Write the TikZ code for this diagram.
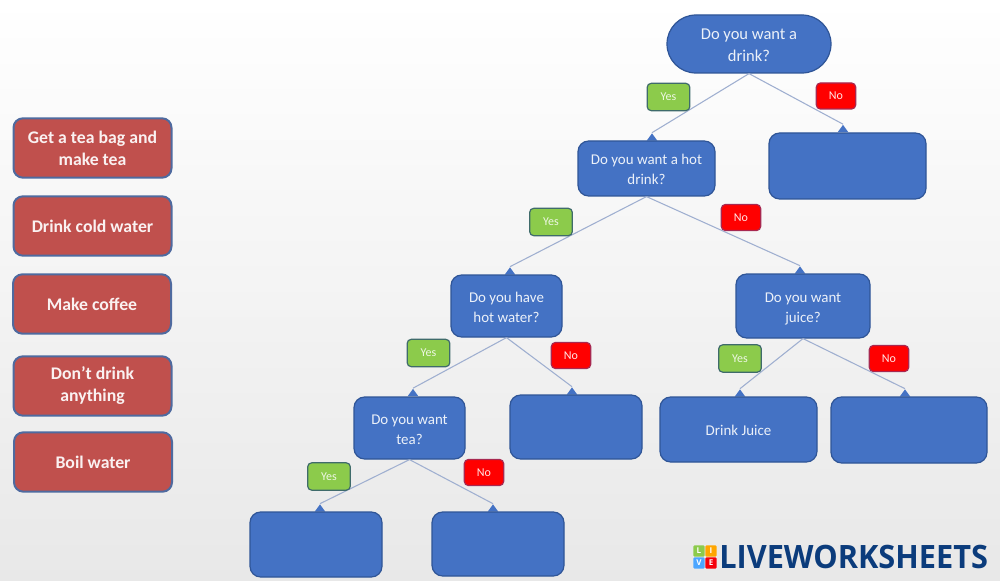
\documentclass[tikz,border=0pt]{standalone}
\usepackage{fontspec}
\setmainfont{Carlito}
\newfontfamily\logofont{Open Sans}
\usetikzlibrary{shapes.geometric,shapes.misc}
\definecolor{qblue}{HTML}{4472C4}
\definecolor{qedge}{HTML}{2F5597}
\definecolor{redbox}{HTML}{C0504D}
\definecolor{rededge}{HTML}{4F6A9F}
\definecolor{yesfill}{HTML}{8CCB4B}
\definecolor{yesedge}{HTML}{3F6B6B}
\definecolor{nofill}{HTML}{FF0000}
\definecolor{noedge}{HTML}{A82850}
\definecolor{linkcol}{HTML}{9FAFD0}
\definecolor{logonavy}{HTML}{0B3C7C}
\tikzset{
  x=0.75pt,y=-0.75pt,
  qbox/.style={rectangle,rounded corners=8pt,draw=qedge,line width=0.9pt,fill=qblue,text=white!90!qblue,align=center,font=\fontsize{11.2}{15}\selectfont,inner sep=0pt,text depth=0pt,text height=24pt,minimum width=#1},
  redcard/.style={rectangle,rounded corners=7pt,draw=rededge,line width=1.5pt,fill=redbox,text=white!92!redbox,align=center,font=\bfseries\fontsize{13.3}{16.5}\selectfont,inner sep=0pt,minimum width=118.5pt,minimum height=44.5pt},
  yestag/.style={rectangle,rounded corners=3pt,draw=yesedge,line width=0.9pt,fill=yesfill,text=white!85!yesfill,font=\fontsize{9}{10}\selectfont,inner sep=0pt,minimum width=32pt,minimum height=20.5pt},
  notag/.style={rectangle,rounded corners=3pt,draw=noedge,line width=0.9pt,fill=nofill,text=white!90!nofill,font=\fontsize{9}{10}\selectfont,inner sep=0pt,minimum width=29.5pt,minimum height=19.5pt},
  tipmark/.style={isosceles triangle,isosceles triangle stretches,shape border rotate=90,fill=qblue,inner sep=0pt,minimum width=8pt,minimum height=5.5pt,draw=none},
  link/.style={draw=linkcol,line width=0.8pt},
  tile/.style={rectangle,rounded corners=1pt,inner sep=0pt,minimum size=8.6pt,text=white,font=\logofont\bfseries\fontsize{6}{6}\selectfont},
}
\begin{document}
\begin{tikzpicture}
\useasboundingbox (0,0) rectangle (1000,581);
\shade[top color=white,bottom color=black!9] (0,0) rectangle (1000,581);
% connectors
\node[tipmark] (t1) at (652,138) {};
\node[tipmark] (t2) at (843,129.5) {};
\node[tipmark] (t3) at (510,272) {};
\node[tipmark] (t4) at (800,271) {};
\node[tipmark] (t5) at (413,393.5) {};
\node[tipmark] (t6) at (572,392) {};
\node[tipmark] (t7) at (740,394) {};
\node[tipmark] (t8) at (905,394) {};
\node[tipmark] (t9) at (320,509) {};
\node[tipmark] (t10) at (493,509) {};
% question boxes
\node[qbox=123pt,minimum height=43.5pt,rounded corners=21.7pt,font=\fontsize{12.4}{16.5}\selectfont,text height=27pt] (q1) at (749,44) {Do you want a\\drink?};
\node[qbox=102.75pt,minimum height=41.25pt] (q2) at (646.5,168.5) {Do you want a hot\\drink?};
\node[qbox=117.75pt,minimum height=49.5pt] (b1) at (847.5,166) {};
\node[qbox=83.25pt,minimum height=46.5pt] (q3) at (506.5,306) {Do you have\\hot water?};
\node[qbox=100.5pt,minimum height=48pt] (q4) at (803,306) {Do you want\\juice?};
\node[qbox=83.25pt,minimum height=46.5pt] (q5) at (409.5,428) {Do you want\\tea?};
\node[qbox=99pt,minimum height=48pt] (b2) at (576,427) {};
\node[qbox=117.75pt,minimum height=48.75pt,text height=9.5pt] (dj) at (738.5,429.5) {Drink Juice};
\node[qbox=117pt,minimum height=49.5pt] (b3) at (909,430) {};
\node[qbox=99pt,minimum height=48.75pt] (b4) at (316,544.5) {};
\node[qbox=99pt,minimum height=48pt] (b5) at (498,544) {};
% links
\draw[link] (q1.south) -- (t1.apex);
\draw[link] (q1.south) -- (t2.apex);
\draw[link] (q2.south) -- (t3.apex);
\draw[link] (q2.south) -- (t4.apex);
\draw[link] (q3.south) -- (t5.apex);
\draw[link] (q3.south) -- (t6.apex);
\draw[link] (q4.south) -- (t7.apex);
\draw[link] (q4.south) -- (t8.apex);
\draw[link] (q5.south) -- (t9.apex);
\draw[link] (q5.south) -- (t10.apex);
% tags
\node[yestag] (y1) at (668.5,97) {Yes};
\node[notag] (n1) at (836,96) {No};
\node[yestag] (y2) at (551,222) {Yes};
\node[notag] (n2) at (741,217.5) {No};
\node[yestag] (y3) at (428.5,353) {Yes};
\node[notag] (n3) at (571,355.5) {No};
\node[yestag] (y4) at (740,358.5) {Yes};
\node[notag] (n4) at (889,358.5) {No};
\node[yestag] (y5) at (329,476.5) {Yes};
\node[notag] (n5) at (484,472.5) {No};
% answer cards
\node[redcard] (r1) at (92.5,148) {Get a tea bag and\\make tea};
\node[redcard] (r2) at (92.5,226) {Drink cold water};
\node[redcard] (r3) at (92,304) {Make coffee};
\node[redcard] (r4) at (92.5,386) {Don’t drink\\anything};
\node[redcard] (r5) at (93,462) {Boil water};
% logo
\node[tile,fill=yesfill] (l1) at (699,551) {L};
\node[tile,fill=orange!70!yellow] (l2) at (711,551) {I};
\node[tile,fill=blue!50!cyan!70] (l3) at (699,563) {V};
\node[tile,fill=red!85!purple] (l4) at (711,563) {E};
\node[anchor=west,text=logonavy,inner sep=0pt] (logo) at (719,557) {\resizebox{201.5pt}{17.5pt}{\logofont\bfseries LIVEWORKSHEETS}};
\end{tikzpicture}
\end{document}
